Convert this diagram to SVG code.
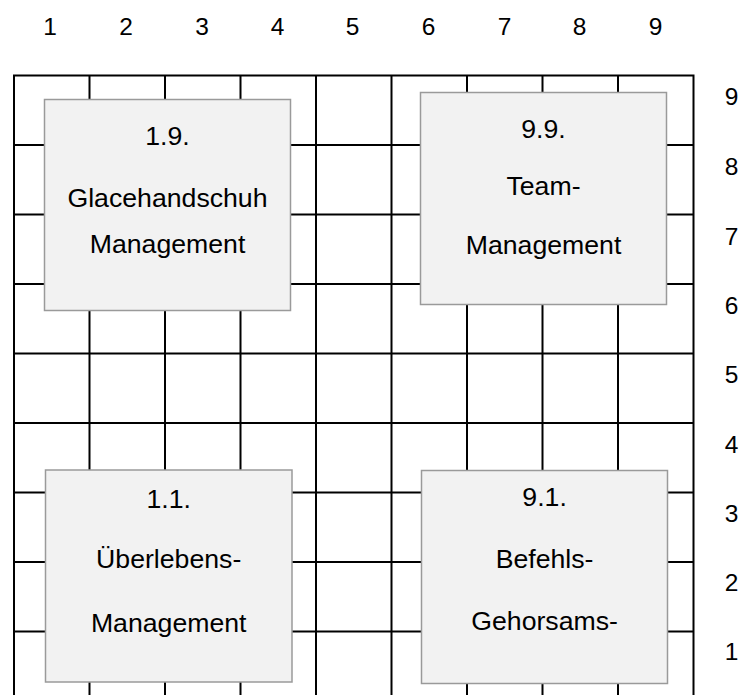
<svg xmlns="http://www.w3.org/2000/svg" width="739" height="695" viewBox="0 0 739 695">
<style>
.g{stroke:#000;stroke-width:2;fill:none}
.box{fill:#f2f2f2;stroke:#9a9a9a;stroke-width:1.5}
.t{font-family:"Liberation Sans",Arial,sans-serif;font-size:26.67px;fill:#000;text-anchor:middle}
.n{font-family:"Liberation Sans",Arial,sans-serif;font-size:24.5px;fill:#000;text-anchor:middle}
</style>
<rect width="739" height="695" fill="#fff"/>
<g id="grid" class="g">
<rect x="14" y="75.5" width="679.5" height="640"/>
<path d="M89.5 75.5V700M165 75.5V700M240.5 75.5V700M316 75.5V700M391.5 75.5V700M467 75.5V700M542.5 75.5V700M618 75.5V700"/>
<path d="M14 145H693.5M14 214.5H693.5M14 284H693.5M14 353.5H693.5M14 423H693.5M14 492.5H693.5M14 562H693.5M14 631.5H693.5"/>
</g>
<g id="axis-top" class="n">
<text x="50" y="35">1</text><text x="126" y="35">2</text><text x="202" y="35">3</text><text x="277.5" y="35">4</text><text x="352.5" y="35">5</text><text x="428.5" y="35">6</text><text x="504.5" y="35">7</text><text x="579.5" y="35">8</text><text x="655.5" y="35">9</text>
</g>
<g id="axis-right" class="n">
<text x="731.5" y="105">9</text><text x="731.5" y="175">8</text><text x="731.5" y="245">7</text><text x="731.5" y="314">6</text><text x="731.5" y="383">5</text><text x="731.5" y="452.5">4</text><text x="731.5" y="522">3</text><text x="731.5" y="591">2</text><text x="731.5" y="660">1</text>
</g>
<g id="node-1-9">
<rect class="box" x="44.5" y="99.5" width="246" height="211"/>
<text class="t" x="167.5" y="145">1.9.</text>
<text class="t" x="167.5" y="206.7">Glacehandschuh</text>
<text class="t" x="167.5" y="252.7">Management</text>
</g>
<g id="node-9-9">
<rect class="box" x="420.5" y="92.5" width="246" height="212"/>
<text class="t" x="543.5" y="138.3">9.9.</text>
<text class="t" x="543.5" y="195">Team-</text>
<text class="t" x="543.5" y="254">Management</text>
</g>
<g id="node-1-1">
<rect class="box" x="45.5" y="470" width="246.5" height="212"/>
<text class="t" x="168.7" y="508.3">1.1.</text>
<text class="t" x="168.7" y="568.3">Überlebens-</text>
<text class="t" x="168.7" y="631.7">Management</text>
</g>
<g id="node-9-1">
<rect class="box" x="421.5" y="470.5" width="246" height="213"/>
<text class="t" x="544.6" y="506">9.1.</text>
<text class="t" x="544.6" y="567.7">Befehls-</text>
<text class="t" x="544.6" y="630">Gehorsams-</text>
</g>
<g id="connectors"/>
</svg>
